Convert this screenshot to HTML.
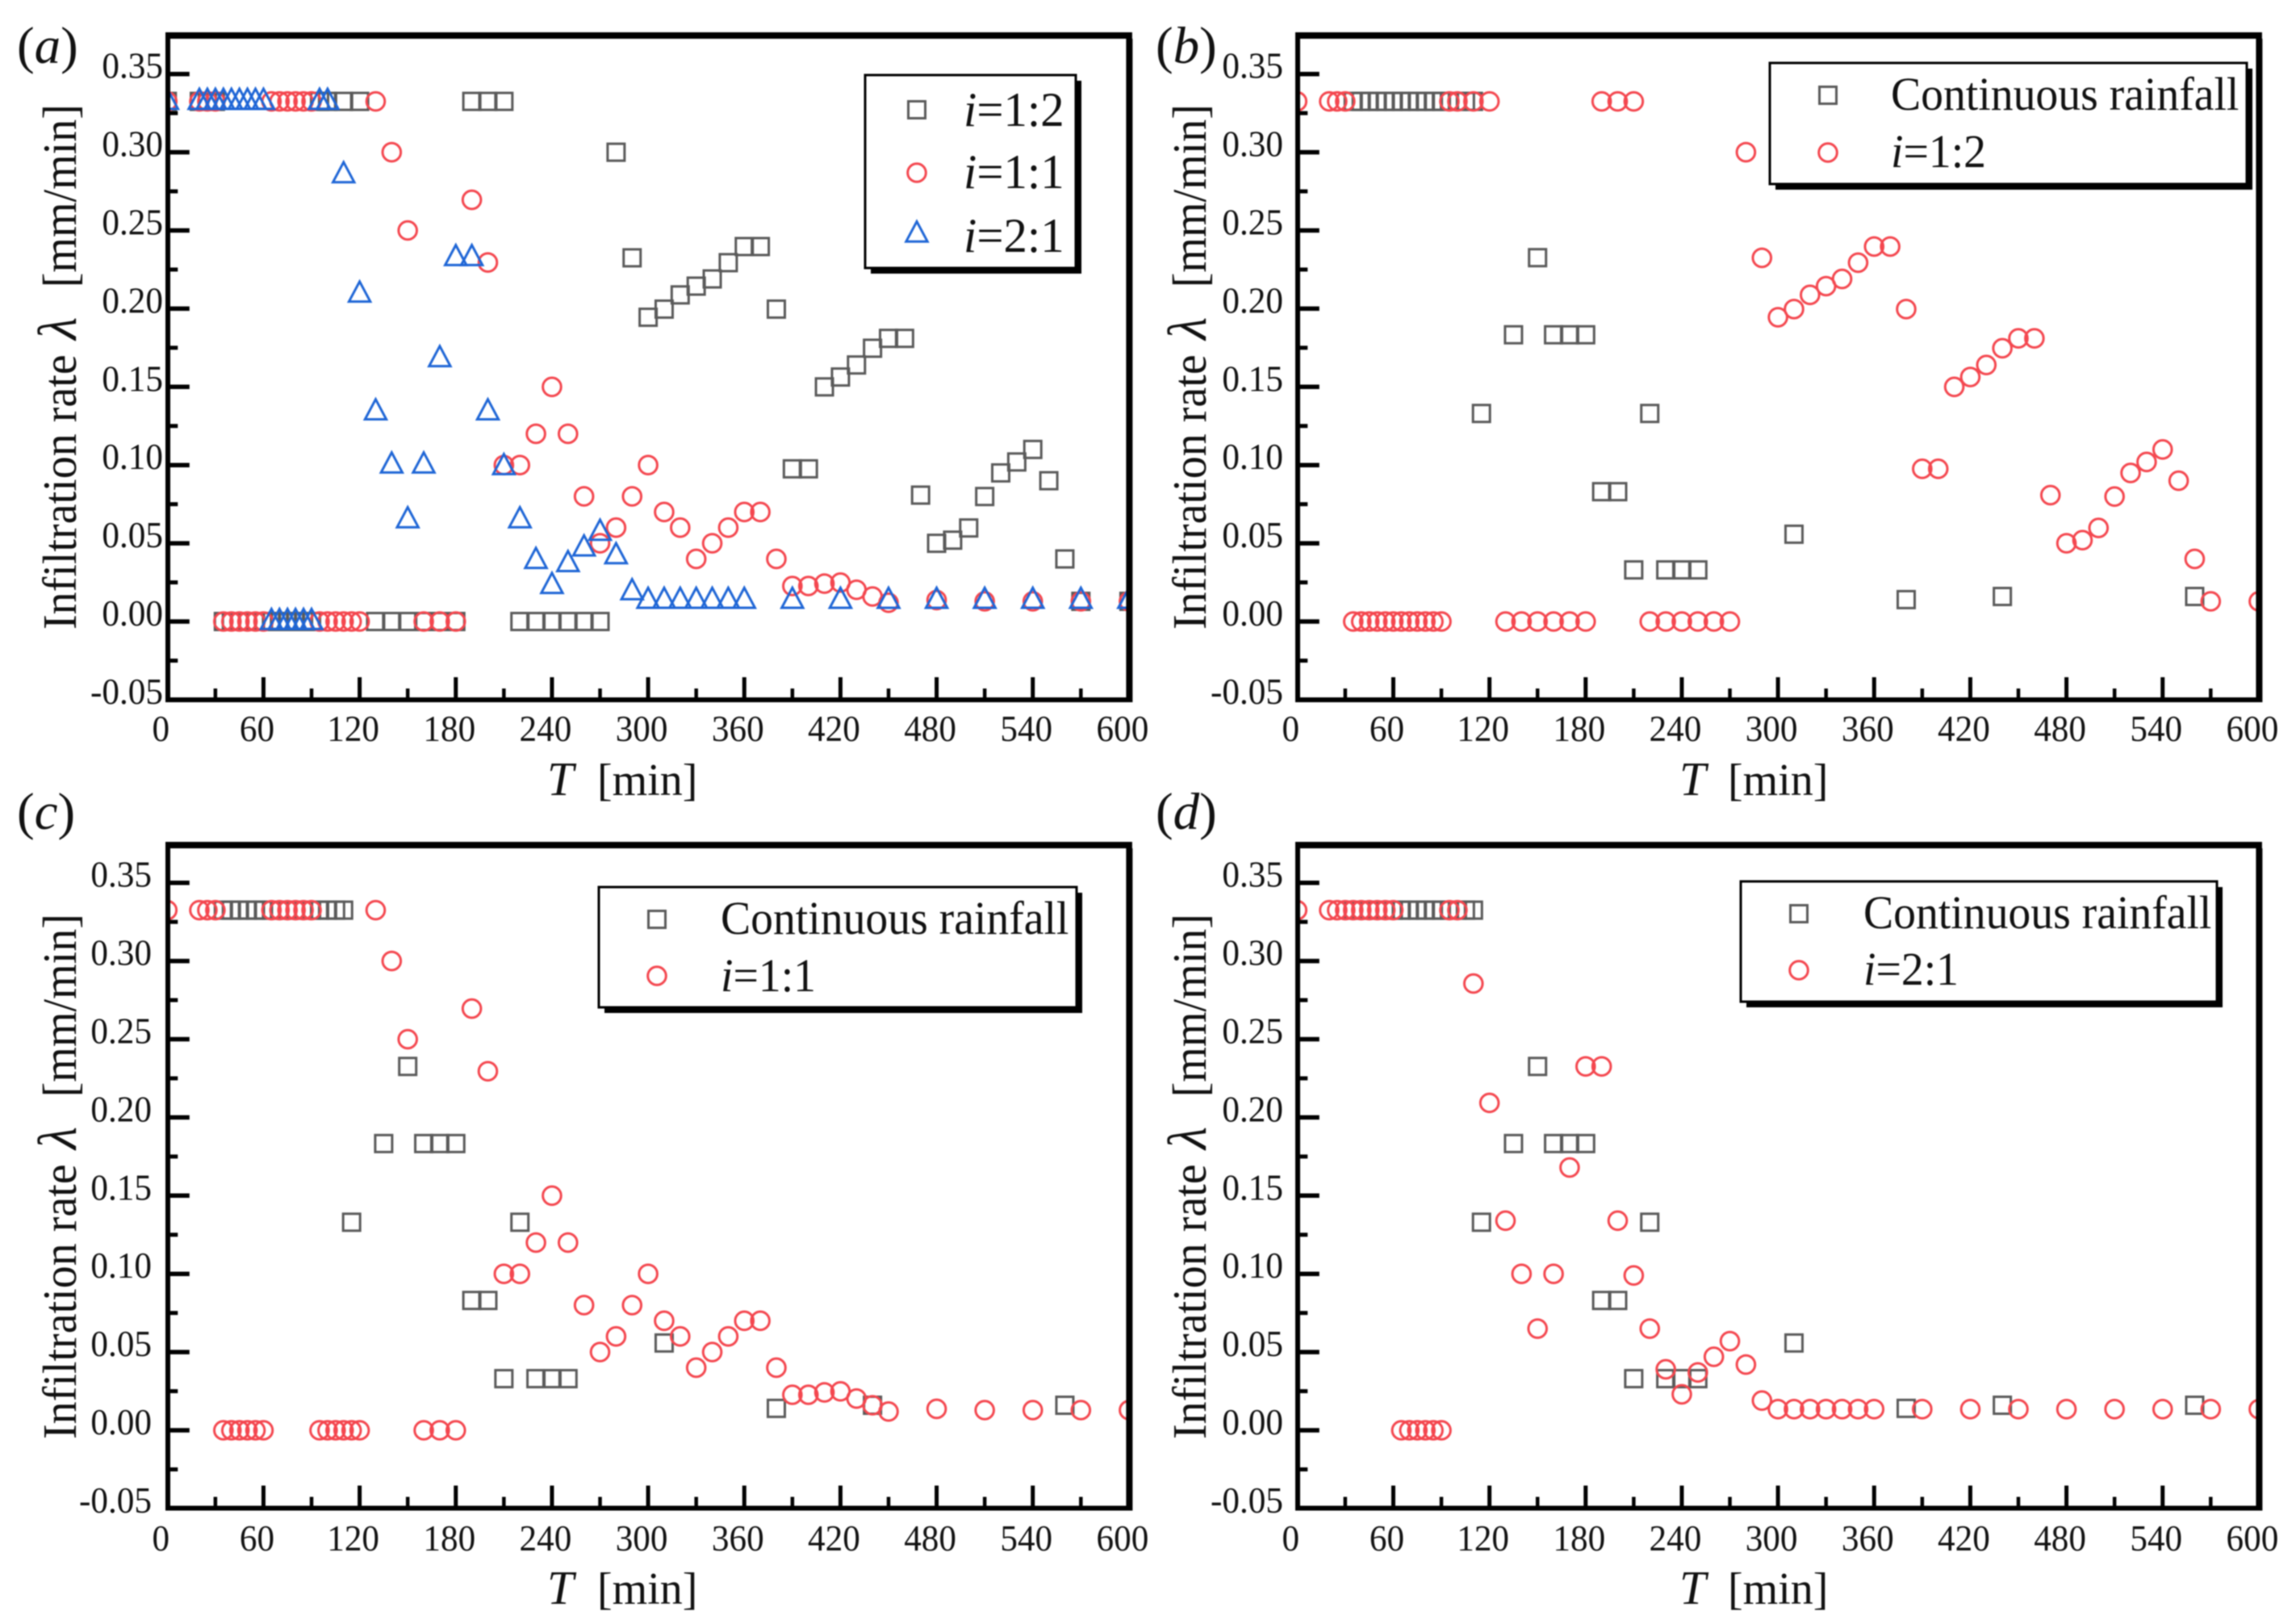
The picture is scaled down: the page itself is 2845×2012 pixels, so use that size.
<!DOCTYPE html>
<html>
<head>
<meta charset="utf-8">
<title>Infiltration rate panels</title>
<style>
html,body{margin:0;padding:0;background:#fff;}
svg{display:block;filter:blur(0.8px);}
text{font-family:"Liberation Serif",serif;fill:#111;white-space:pre;}
.it{font-style:italic;}
</style>
</head>
<body>
<svg id="figure" xmlns="http://www.w3.org/2000/svg" width="2845" height="2012" viewBox="0 0 2845 2012"></svg>
<script>
// ---- data ----
const xTickLabels = ['0','60','120','180','240','300','360','420','480','540','600'];
const xMinorTicks = [30,90,150,210,270,330,390,450,510,570];
const yTickLabels = ['-0.05','0.00','0.05','0.10','0.15','0.20','0.25','0.30','0.35'];
const yMinorTicks = [-0.025,0.025,0.075,0.125,0.175,0.225,0.275,0.325];

const contTimes = [35,40,45,50,55,60,65,70,75,80,85,90,95,100,105,110,115,135,150,160,170,180,190,200,210,220,230,240,250,310,380,440,560];
const contValues = [0.3325,0.3325,0.3325,0.3325,0.3325,0.3325,0.3325,0.3325,0.3325,0.3325,0.3325,0.3325,0.3325,0.3325,0.3325,0.3325,0.133,0.1833,0.2326,0.1833,0.1833,0.1833,0.083,0.083,0.033,0.133,0.033,0.033,0.033,0.0558,0.014,0.016,0.016];

const i12Times = [0,20,25,30,95,100,110,120,190,200,210,35,40,45,50,55,60,65,70,75,80,85,90,130,140,150,160,170,180,220,230,240,250,260,270,280,290,300,310,320,330,340,350,360,370,380,390,400,410,420,430,440,450,460,470,480,490,500,510,520,530,540,550,560,570,600];
const i12Values = [0.3325,0.3325,0.3325,0.3325,0.3325,0.3325,0.3325,0.3325,0.3325,0.3325,0.3325,0,0,0,0,0,0,0,0,0,0,0,0,0,0,0,0,0,0,0,0,0,0,0,0,0.30,0.2325,0.1945,0.1997,0.2088,0.2144,0.219,0.2294,0.2397,0.2397,0.1997,0.0976,0.0976,0.15,0.1563,0.164,0.1747,0.181,0.181,0.0808,0.05,0.052,0.0598,0.0799,0.095,0.102,0.11,0.09,0.04,0.0129,0.0129];

const i11Times = [0,20,25,30,65,70,75,80,85,90,130,35,40,45,50,55,60,95,100,105,110,115,120,160,170,180,140,150,190,200,210,220,230,240,250,260,270,280,290,300,310,320,330,340,350,360,370,380,390,400,410,420,430,440,450,480,510,540,570,600];
const i11Values = [0.3325,0.3325,0.3325,0.3325,0.3325,0.3325,0.3325,0.3325,0.3325,0.3325,0.3325,0,0,0,0,0,0,0,0,0,0,0,0,0,0,0,0.30,0.25,0.2696,0.2295,0.10,0.10,0.12,0.15,0.12,0.08,0.05,0.06,0.08,0.10,0.07,0.06,0.04,0.05,0.06,0.07,0.07,0.04,0.0227,0.0227,0.0242,0.0249,0.0203,0.016,0.012,0.0137,0.0129,0.0129,0.0129,0.0129];

const i21Times = [0,20,25,30,35,40,45,50,55,60,95,100,65,70,75,80,85,90,110,120,130,140,150,160,170,180,190,200,210,220,230,240,250,260,270,280,290,300,310,320,330,340,350,360,390,420,450,480,510,540,570,600];
const i21Values = [0.3325,0.3325,0.3325,0.3325,0.3325,0.3325,0.3325,0.3325,0.3325,0.3325,0.3325,0.3325,0,0,0,0,0,0,0.2856,0.2093,0.134,0.10,0.065,0.10,0.168,0.2326,0.2326,0.134,0.099,0.065,0.039,0.023,0.037,0.047,0.057,0.042,0.019,0.0135,0.0135,0.0135,0.0135,0.0135,0.0135,0.0135,0.0135,0.0135,0.0135,0.0135,0.0135,0.0135,0.0135,0.0135];

// ---- layout ----
const SVGNS = 'http://www.w3.org/2000/svg';
const svg = document.getElementById('figure');
const GRAY = '#5a5a5a', RED = '#f4474f', BLUE = '#1f66d6';
const X_PER_MIN = 1.986, Y_PER_UNIT = 1938;

const panels = [
  {id:'a', left:207.3, top:44, y0:770, bottom:867, tickRight:202, titleBase:94, titleStart:780, labelX:21, labelY:78, xLabelY:918, xTitleY:985, tX:680, bX:740,
   series:[{t:i12Times,v:i12Values,m:'square',name:'i-1-2'},{t:i11Times,v:i11Values,m:'circle',name:'i-1-1'},{t:i21Times,v:i21Values,m:'triangle',name:'i-2-1'}],
   legend:{x:1072,y:93,w:261,h:239,mx:1136,tx:1194,size:60,squeeze:0.98,rows:[{m:'square',my:136,b:156,pre:'i',txt:'=1:2'},{m:'circle',my:214,b:233,pre:'i',txt:'=1:1'},{m:'triangle',my:290,b:312,pre:'i',txt:'=2:1'}]}},
  {id:'b', left:1607.3, top:44, y0:770, bottom:867, tickRight:1590, titleBase:1494, titleStart:780, labelX:1432, labelY:78, xLabelY:918, xTitleY:985, tX:2083, bX:2141,
   series:[{t:contTimes,v:contValues,m:'square',name:'continuous'},{t:i12Times,v:i12Values,m:'circle',name:'i-1-2'}],
   legend:{x:2193,y:78,w:591,h:150,mx:2265,tx:2343,size:58,squeeze:0.96,rows:[{m:'square',my:118,b:136,pre:'',txt:'Continuous rainfall'},{m:'circle',my:189,b:207,pre:'i',txt:'=1:2'}]}},
  {id:'c', left:207.3, top:1047, y0:1772, bottom:1868.5, tickRight:188, titleBase:94, titleStart:1783, labelX:21, labelY:1027, xLabelY:1921, xTitleY:1987, tX:680, bX:740,
   series:[{t:contTimes,v:contValues,m:'square',name:'continuous'},{t:i11Times,v:i11Values,m:'circle',name:'i-1-1'}],
   legend:{x:742,y:1099,w:592,h:149,mx:814,tx:893,size:58,squeeze:0.96,rows:[{m:'square',my:1139,b:1157,pre:'',txt:'Continuous rainfall'},{m:'circle',my:1209,b:1228,pre:'i',txt:'=1:1'}]}},
  {id:'d', left:1607.3, top:1047, y0:1772, bottom:1868.5, tickRight:1590, titleBase:1494, titleStart:1783, labelX:1432, labelY:1027, xLabelY:1921, xTitleY:1987, tX:2083, bX:2141,
   series:[{t:contTimes,v:contValues,m:'square',name:'continuous'},{t:i21Times,v:i21Values,m:'circle',name:'i-2-1'}],
   legend:{x:2157,y:1092,w:590,h:149,mx:2229,tx:2309,size:58,squeeze:0.96,rows:[{m:'square',my:1132,b:1150,pre:'',txt:'Continuous rainfall'},{m:'circle',my:1202,b:1220,pre:'i',txt:'=2:1'}]}}
];

function xScale(p, t){ return p.left + t * X_PER_MIN; }
function yScale(p, v){ return p.y0 - v * Y_PER_UNIT; }

function mk(tag, parent, attrs){
  const el = document.createElementNS(SVGNS, tag);
  for (const k in attrs) el.setAttribute(k, attrs[k]);
  parent.appendChild(el);
  return el;
}

function drawMarker(kind, parent, x, y){
  let el;
  if (kind === 'square') {
    el = mk('rect', parent, {x:x-10.5, y:y-10.5, width:21, height:21, fill:'none', stroke:GRAY, 'stroke-width':3});
  } else if (kind === 'circle') {
    el = mk('circle', parent, {cx:x, cy:y, r:11.3, fill:'none', stroke:RED, 'stroke-width':3});
  } else {
    const pts = [[x, y-15.6],[x+13.2, y+9.2],[x-13.2, y+9.2]].map(q => q.join(',')).join(' ');
    el = mk('polygon', parent, {points:pts, fill:'none', stroke:BLUE, 'stroke-width':3});
  }
  return el;
}

panels.forEach(p => {
  const right = p.left + 600 * X_PER_MIN;
  const g = mk('g', svg, {});
  
  

  // clip region
  const defs = mk('defs', g, {});
  const clip = mk('clipPath', defs, {id:'clip-' + p.id});
  mk('rect', clip, {x:p.left, y:p.top, width:right-p.left, height:p.bottom-p.top});

  // series
  p.series.forEach(s => {
    const sg = mk('g', g, {'clip-path':'url(#clip-' + p.id + ')'});
    
    
    s.t.forEach((t, i) => {
      const mark = drawMarker(s.m, sg, xScale(p, t), yScale(p, s.v[i]));
      
      
    });
  });

  // frame
  const frame = mk('path', g, {
    d:'M' + p.left + ' ' + p.bottom + 'H' + right,
    stroke:'#000', 'stroke-width':6, fill:'none'
  });
  
  
  const lft = mk('path', g, {d:'M' + (p.left+0.7) + ' ' + (p.top-4) + 'V' + (p.bottom+3), stroke:'#000', 'stroke-width':6, fill:'none'});
  
  
  const tp = mk('path', g, {d:'M' + (p.left-2) + ' ' + p.top + 'H' + (right+4), stroke:'#000', 'stroke-width':8, fill:'none'});
  
  
  const rg = mk('path', g, {d:'M' + (right+0.5) + ' ' + (p.top+4) + 'V' + (p.bottom+3), stroke:'#000', 'stroke-width':8, fill:'none'});
  
  

  // x ticks
  xTickLabels.forEach(lab => {
    const t = parseFloat(lab), x = xScale(p, t);
    if (t > 0 && t < 600) {
      const tick = mk('line', g, {x1:x, x2:x, y1:p.bottom, y2:p.bottom-28, stroke:'#000', 'stroke-width':5});
      
      
    }
    const tx = mk('text', g, {transform:'translate(' + (x-8) + ',' + p.xLabelY + ') scale(0.96,1)', 'font-size':45, 'text-anchor':'middle'});
    tx.textContent = lab;
    
    
  });
  xMinorTicks.forEach(t => {
    const x = xScale(p, t);
    const tick = mk('line', g, {x1:x, x2:x, y1:p.bottom, y2:p.bottom-14, stroke:'#000', 'stroke-width':4.5});
    
    
  });

  // y ticks
  yTickLabels.forEach(lab => {
    const v = parseFloat(lab), y = yScale(p, v);
    if (v > -0.05) {
      const tick = mk('line', g, {x1:p.left, x2:p.left+27.5, y1:y, y2:y, stroke:'#000', 'stroke-width':5.5});
      
      
    }
    const tx = mk('text', g, {transform:'translate(' + p.tickRight + ',' + (y+5) + ') scale(0.96,1)', 'font-size':45, 'text-anchor':'end'});
    tx.textContent = lab;
    
    
  });
  yMinorTicks.forEach(v => {
    const y = yScale(p, v);
    const tick = mk('line', g, {x1:p.left, x2:p.left+13, y1:y, y2:y, stroke:'#000', 'stroke-width':5});
    
    
  });

  // axis titles
  const xt = mk('text', g, {y:p.xTitleY, 'font-size':56});
  
  
  const t1 = mk('tspan', xt, {x:p.tX-2, class:'it', 'font-size':59}); t1.textContent = 'T';
  const t2 = mk('tspan', xt, {x:p.bX}); t2.textContent = '[min]';

  const yt = mk('text', g, {transform:'translate(' + p.titleBase + ',' + p.titleStart + ') rotate(-90) scale(0.95,1)', 'font-size':59});
  
  
  const y1 = mk('tspan', yt, {x:0}); y1.textContent = 'Infiltration rate';
  const y2 = mk('tspan', yt, {x:378, class:'it', 'font-size':68}); y2.textContent = 'λ';
  const y3 = mk('tspan', yt, {x:446}); y3.textContent = '[mm/min]';

  // panel label
  const pl = mk('text', g, {x:p.labelX, y:p.labelY, 'font-size':65});
  
  
  const a1 = mk('tspan', pl, {}); a1.textContent = '(';
  const a2 = mk('tspan', pl, {class:'it'}); a2.textContent = p.id;
  const a3 = mk('tspan', pl, {}); a3.textContent = ')';

  // legend
  const L = p.legend;
  const lg = mk('g', g, {});
  
  
  mk('rect', lg, {x:L.x+7, y:L.y+7, width:L.w, height:L.h, fill:'#000'});
  mk('rect', lg, {x:L.x, y:L.y, width:L.w, height:L.h, fill:'#fff', stroke:'#000', 'stroke-width':3});
  L.rows.forEach(r => {
    const m = drawMarker(r.m, lg, L.mx, r.my);
    
    
    const tx = mk('text', lg, {transform:'translate(' + L.tx + ',' + r.b + ') scale(' + L.squeeze + ',1)', 'font-size':L.size});
    
    
    if (r.pre) {
      const pr = mk('tspan', tx, {class:'it'});
      pr.textContent = r.pre;
    }
    const rest = mk('tspan', tx, {});
    rest.textContent = r.txt;
  });
});
</script>
</body>
</html>
